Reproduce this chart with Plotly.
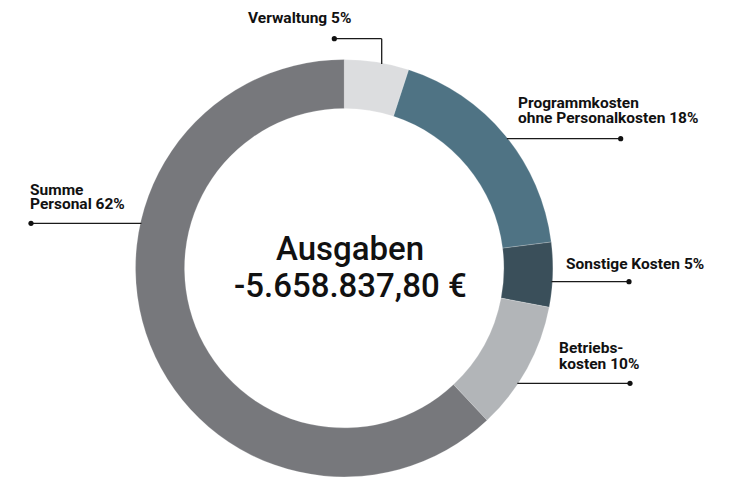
import math
import plotly.graph_objects as go

# page has an 8px body margin; figure occupies the rest of the 732x488 window
OFF = 8
W, H = 732 - OFF, 488 - OFF

# ---- data ----
categories = ["Verwaltung", "Programmkosten ohne Personalkosten", "Sonstige Kosten",
              "Betriebskosten", "Summe Personal"]
label_lines = [["Verwaltung"], ["Programmkosten", "ohne Personalkosten"], ["Sonstige Kosten"],
               ["Betriebs-", "kosten"], ["Summe", "Personal"]]
shares = [5, 18, 5, 10, 62]
colors = ["#dcdddf", "#4f7384", "#3a4f5a", "#b2b5b8", "#77787c"]
center_title = "Ausgaben"
center_total = "-5.658.837,80 €"

# ---- geometry (window pixels) ----
CX, CY, R = 344.2, 268.2, 208.7
HOLE = 0.765

def px(x):
    return (x - OFF) / W

def py(y):
    return 1 - (y - OFF) / H

fig = go.Figure(go.Pie(
    labels=categories,
    values=shares,
    marker=dict(colors=colors, line=dict(color="rgba(255,255,255,0.35)", width=0.6)),
    hole=HOLE,
    sort=False,
    direction="clockwise",
    rotation=0,
    textinfo="none",
    hoverinfo="label+percent",
    domain=dict(x=[px(CX - R), px(CX + R)], y=[py(CY + R), py(CY - R)]),
    showlegend=False,
))


def ring_x(y, side):
    dy = CY - y
    dx = math.sqrt(max(R * R - dy * dy, 0))
    return CX + side * dx

LINE = dict(color="#1a1a1a", width=1.3)
shapes = []
annotations = []
LABEL_FONT = dict(family="Roboto", size=15.5, color="#111", weight="bold")

def dot(x, y, r=2.6):
    shapes.append(dict(type="circle", xref="paper", yref="paper",
                       x0=px(x - r), x1=px(x + r), y0=py(y + r), y1=py(y - r),
                       fillcolor="#111", line=dict(width=0)))

def seg(x0, y0, x1, y1):
    shapes.append(dict(type="line", xref="paper", yref="paper",
                       x0=px(x0), y0=py(y0), x1=px(x1), y1=py(y1), line=LINE))

def text_lines(lines, x, ys):
    for t, y in zip(lines, ys):
        annotations.append(dict(text=t, x=px(x), y=py(y), xref="paper", yref="paper",
                                xanchor="left", yanchor="middle", showarrow=False,
                                font=LABEL_FONT))

def with_pct(lines, v):
    return lines[:-1] + [f"{lines[-1]} {v}%"]

# Verwaltung (top)
top_y = CY - math.sqrt(R * R - (381.7 - CX) ** 2)
seg(334.3, 38.7, 381.7, 38.7)
seg(381.7, 38.7, 381.7, top_y + 1)
dot(334.3, 38.7)
text_lines(with_pct(label_lines[0], shares[0]), 246, [18])

# Programmkosten
seg(ring_x(138.7, 1) - 1, 138.7, 620.7, 138.7)
dot(620.7, 138.7)
text_lines(with_pct(label_lines[1], shares[1]), 516, [102.7, 117.7])

# Sonstige
seg(ring_x(281.7, 1) - 1, 281.7, 629, 281.7)
dot(629, 281.7)
text_lines(with_pct(label_lines[2], shares[2]), 564, [264.3])

# Betriebs
seg(ring_x(383.3, 1) - 1, 383.3, 630, 383.3)
dot(630, 383.3)
text_lines(with_pct(label_lines[3], shares[3]), 556.5, [348.3, 364.3])

# Personal
seg(31, 223.3, ring_x(223.3, -1) + 1, 223.3)
dot(31, 223.3)
text_lines(with_pct(label_lines[4], shares[4]), 27.5, [190, 204.3])

# center text
for t, y in [(center_title, 248), (center_total, 285)]:
    annotations.append(dict(text=t, x=px(350), y=py(y), xref="paper", yref="paper",
                            xanchor="center", yanchor="middle", showarrow=False,
                            font=dict(family="Roboto", size=33, color="#111", weight=500)))

fig.update_layout(
    width=W, height=H,
    margin=dict(l=0, r=0, t=0, b=0),
    paper_bgcolor="white", plot_bgcolor="white",
    shapes=shapes, annotations=annotations,
)

fig.write_html("out.html")
